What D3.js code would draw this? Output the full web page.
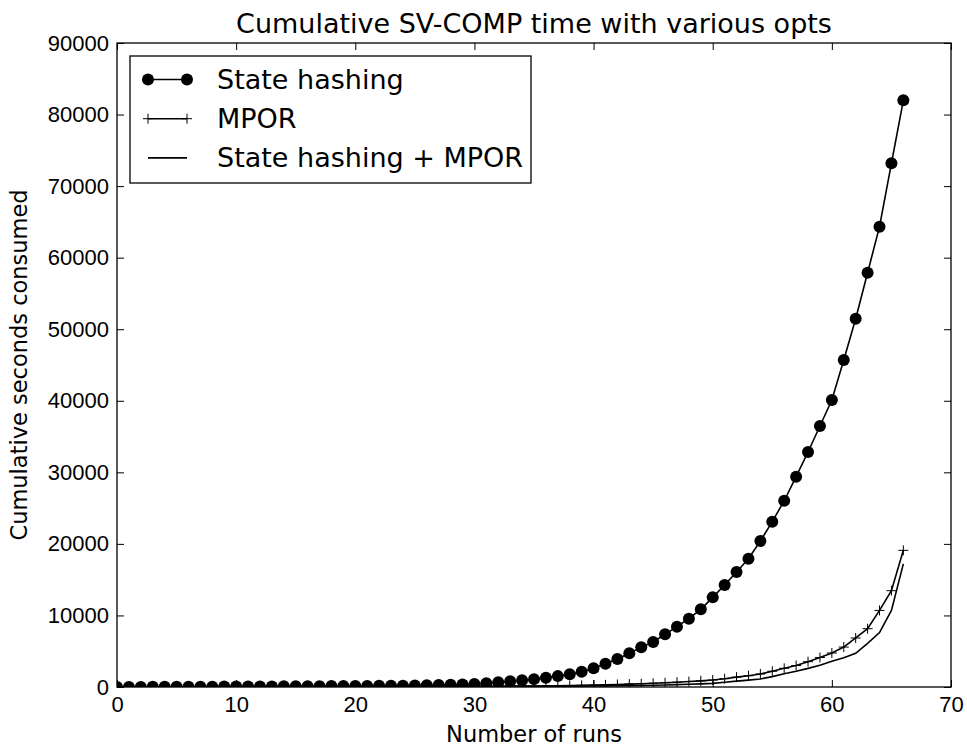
<!DOCTYPE html>
<html>
<head>
<meta charset="utf-8">
<script src="https://cdn.jsdelivr.net/npm/d3@7"></script>
<style>
  body { margin: 0; background: #fff; overflow: hidden; }
  svg { display: block; font-family: "DejaVu Sans", sans-serif; }
</style>
</head>
<body>
<svg id="chart"></svg>
<script>
// Cumulative SV-COMP time – three configurations, one point per run

const runs = d3.range(0, 67);

const stateHashing = [
  2, 8, 15, 20, 28, 33, 40, 46, 52, 60,
  66, 72, 80, 86, 94, 100, 108, 115, 124, 132,
  140, 150, 162, 176, 192, 210, 235, 265, 300, 350,
  420, 520, 650, 800, 950, 1100, 1300, 1520, 1770, 2130,
  2610, 3260, 3910, 4710, 5540, 6290, 7360, 8430, 9550, 10850,
  12530, 14250, 16070, 17930, 20400, 23100, 26030, 29390, 32840, 36470,
  40100, 45700, 51470, 57900, 64330, 73180, 81990
];

const mpor = [
  1, 2, 4, 5, 7, 8, 10, 11, 13, 15,
  17, 19, 21, 23, 25, 27, 30, 32, 35, 38,
  41, 44, 48, 52, 56, 61, 66, 72, 78, 85,
  92, 100, 110, 120, 132, 145, 160, 180, 205, 230,
  260, 300, 350, 400, 460, 520, 590, 670, 760, 860,
  980, 1160, 1380, 1580, 1820, 2200, 2610, 3000, 3540, 4120,
  4750, 5580, 6850, 8150, 10700, 13460, 19100
];

const combined = [
  1, 2, 3, 4, 5, 6, 7, 8, 9, 10,
  12, 13, 14, 16, 17, 19, 21, 23, 25, 27,
  29, 31, 34, 37, 40, 43, 47, 51, 55, 60,
  65, 70, 76, 82, 90, 98, 106, 115, 125, 135,
  145, 160, 175, 195, 220, 250, 290, 330, 380, 440,
  510, 660, 820, 960, 1120, 1450, 1850, 2200, 2600, 3050,
  3600, 4100, 4700, 6100, 7600, 10700, 17200
];

const xTicks = [0, 10, 20, 30, 40, 50, 60, 70];
const yTicks = [0, 10000, 20000, 30000, 40000, 50000, 60000, 70000, 80000, 90000];

const width = 967, height = 748;
const margin = { top: 43, right: 16, bottom: 61, left: 117 };
const innerWidth  = width  - margin.left - margin.right;
const innerHeight = height - margin.top  - margin.bottom;

const svg = d3.select("#chart")
  .attr("width", width)
  .attr("height", height);

const x = d3.scaleLinear().domain([0, 70]).range([0, innerWidth]);
const y = d3.scaleLinear().domain([0, 90000]).range([innerHeight, 0]);

svg.append("defs").append("clipPath").attr("id", "clip")
  .append("rect").attr("width", innerWidth).attr("height", innerHeight);

const g = svg.append("g")
  .attr("transform", `translate(${margin.left},${margin.top})`);

const plot = g.append("g").attr("clip-path", "url(#clip)");

const line = d3.line()
  .x((d, i) => x(runs[i]))
  .y(d => y(d));

// State hashing + MPOR: plain line
plot.append("path")
  .datum(combined)
  .attr("fill", "none")
  .attr("stroke", "#000")
  .attr("stroke-width", 1.6)
  .attr("d", line);

// MPOR: line with plus markers
plot.append("path")
  .datum(mpor)
  .attr("fill", "none")
  .attr("stroke", "#000")
  .attr("stroke-width", 1.6)
  .attr("d", line);

plot.append("g")
  .selectAll("path")
  .data(mpor)
  .join("path")
  .attr("transform", (d, i) => `translate(${x(runs[i])},${y(d)})`)
  .attr("d", "M-5,0H5M0,-5V5")
  .attr("stroke", "#000")
  .attr("stroke-width", 1);

// State hashing: line with filled circles
plot.append("path")
  .datum(stateHashing)
  .attr("fill", "none")
  .attr("stroke", "#000")
  .attr("stroke-width", 1.6)
  .attr("d", line);

plot.append("g")
  .selectAll("circle")
  .data(stateHashing)
  .join("circle")
  .attr("cx", (d, i) => x(runs[i]))
  .attr("cy", d => y(d))
  .attr("r", 6)
  .attr("fill", "#000");

// axes – matplotlib classic: inward ticks on all four sides
const tickLen = 7;
function styleAxis(sel) {
  sel.select(".domain").remove();
  sel.selectAll(".tick line").attr("stroke", "#000").attr("stroke-width", 1);
  sel.selectAll(".tick text").attr("fill", "#000").attr("font-size", 22);
}

g.append("g")
  .attr("transform", `translate(0,${innerHeight})`)
  .call(d3.axisBottom(x).tickValues(xTicks).tickFormat(d3.format("d"))
    .tickSizeInner(-tickLen).tickPadding(9))
  .call(styleAxis);

g.append("g")
  .call(d3.axisTop(x).tickValues(xTicks).tickSizeInner(-tickLen).tickFormat(""))
  .call(styleAxis);

g.append("g")
  .call(d3.axisLeft(y).tickValues(yTicks).tickFormat(d3.format("d"))
    .tickSizeInner(-tickLen).tickPadding(8))
  .call(styleAxis);

g.append("g")
  .attr("transform", `translate(${innerWidth},0)`)
  .call(d3.axisRight(y).tickValues(yTicks).tickSizeInner(-tickLen).tickFormat(""))
  .call(styleAxis);

g.append("rect")
  .attr("width", innerWidth)
  .attr("height", innerHeight)
  .attr("fill", "none")
  .attr("stroke", "#000")
  .attr("stroke-width", 1.3);

// title and axis labels
svg.append("text")
  .attr("x", margin.left + innerWidth / 2)
  .attr("y", 33)
  .attr("text-anchor", "middle")
  .attr("font-size", 27)
  .text("Cumulative SV-COMP time with various opts");

svg.append("text")
  .attr("x", margin.left + innerWidth / 2)
  .attr("y", 742)
  .attr("text-anchor", "middle")
  .attr("font-size", 22.5)
  .text("Number of runs");

svg.append("text")
  .attr("transform", `translate(27,${margin.top + innerHeight / 2}) rotate(-90)`)
  .attr("text-anchor", "middle")
  .attr("font-size", 22.5)
  .text("Cumulative seconds consumed");

// legend
const legendItems = [
  { label: "State hashing", marker: "circle" },
  { label: "MPOR", marker: "plus" },
  { label: "State hashing + MPOR", marker: "none" }
];

const legend = svg.append("g").attr("transform", "translate(130,56)");
legend.append("rect")
  .attr("width", 401)
  .attr("height", 127)
  .attr("fill", "#fff")
  .attr("stroke", "#000")
  .attr("stroke-width", 1.3);

const rows = legend.selectAll("g.row")
  .data(legendItems)
  .join("g")
  .attr("class", "row")
  .attr("transform", (d, i) => `translate(0,${23.5 + i * 39.2})`);

rows.append("line")
  .attr("x1", 18).attr("x2", 57)
  .attr("stroke", "#000").attr("stroke-width", 1.6);

rows.filter(d => d.marker === "circle").selectAll("circle")
  .data([18, 57])
  .join("circle")
  .attr("cx", d => d).attr("r", 6).attr("fill", "#000");

rows.filter(d => d.marker === "plus").selectAll("path")
  .data([18, 57])
  .join("path")
  .attr("transform", d => `translate(${d},0)`)
  .attr("d", "M-5,0H5M0,-5V5")
  .attr("stroke", "#000").attr("stroke-width", 1);

rows.append("text")
  .attr("x", 87)
  .attr("dy", "0.35em")
  .attr("font-size", 27)
  .text(d => d.label);
</script>
</body>
</html>
